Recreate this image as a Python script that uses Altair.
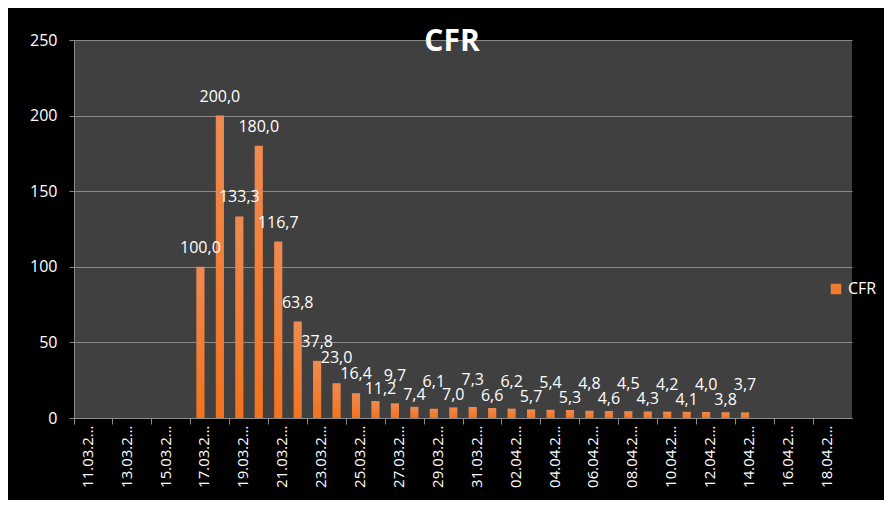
import altair as alt
import pandas as pd

dates = ["11.03.2020", "12.03.2020", "13.03.2020", "14.03.2020", "15.03.2020",
         "16.03.2020", "17.03.2020", "18.03.2020", "19.03.2020", "20.03.2020",
         "21.03.2020", "22.03.2020", "23.03.2020", "24.03.2020", "25.03.2020",
         "26.03.2020", "27.03.2020", "28.03.2020", "29.03.2020", "30.03.2020",
         "31.03.2020", "01.04.2020", "02.04.2020", "03.04.2020", "04.04.2020",
         "05.04.2020", "06.04.2020", "07.04.2020", "08.04.2020", "09.04.2020",
         "10.04.2020", "11.04.2020", "12.04.2020", "13.04.2020", "14.04.2020",
         "15.04.2020", "16.04.2020", "17.04.2020", "18.04.2020", "19.04.2020"]

cfr = [None, None, None, None, None, None,
       100.0, 200.0, 133.3, 180.0, 116.7, 63.8, 37.8, 23.0, 16.4, 11.2,
       9.7, 7.4, 6.1, 7.0, 7.3, 6.6, 6.2, 5.7, 5.4, 5.3, 4.8, 4.6, 4.5,
       4.3, 4.2, 4.1, 4.0, 3.8, 3.7,
       None, None, None, None, None]

tick_dates = dates[::2]
y_ticks = [0, 50, 100, 150, 200, 250]

df = pd.DataFrame({"date": dates, "cfr": cfr})

FONT = "Open Sans"
GRID = "#8a8a8a"

base = alt.Chart(df).transform_window(i="row_number()")

x_enc = alt.X(
    "date:N",
    sort=dates,
    scale=alt.Scale(domain=dates, paddingInner=0, paddingOuter=0),
    axis=alt.Axis(
        title=None,
        values=tick_dates,
        labelAngle=-90,
        bandPosition=0,
        labelOffset=4,
        labelColor="white",
        labelFont=FONT,
        labelFontSize=15,
        labelLimit=68,
        labelPadding=1,
        domainColor=GRID,
        tickColor=GRID,
        tickSize=6,
    ),
)

y_enc = alt.Y(
    "cfr:Q",
    scale=alt.Scale(domain=[0, 250], nice=False, zero=True),
    axis=alt.Axis(
        title=None,
        values=y_ticks,
        labelColor="white",
        labelFont=FONT,
        labelFontSize=16,
        labelPadding=12,
        gridColor=GRID,
        domainColor=GRID,
        tickColor=GRID,
        tickSize=5,
    ),
)

bars = base.mark_bar(
    width=alt.RelativeBandSize(0.42),
    color=alt.Gradient(
        gradient="linear",
        stops=[alt.GradientStop(color="#ee8b52", offset=0),
               alt.GradientStop(color="#f2731e", offset=1)],
        x1=0, x2=0, y1=0, y2=1,
    ),
).encode(x=x_enc, y=y_enc)

labels = base.transform_filter("datum.cfr != null").transform_calculate(
    lab="replace(format(datum.cfr, '.1f'), '.', ',')"
).mark_text(
    color="white",
    font=FONT,
    fontSize=16,
    baseline="middle",
    dy=alt.ExprRef(
        "datum.i == 14 ? -25 : (datum.i >= 16 ? (datum.i % 2 == 1 ? -27 : -12) : -19)"
    ),
    dx=alt.ExprRef("datum.i == 16 ? 5 : 0"),
).encode(x=x_enc, y=y_enc, text="lab:N")

legend_layer = base.transform_calculate(s="'CFR'").mark_square(size=0, opacity=1).encode(
    color=alt.Color(
        "s:N",
        scale=alt.Scale(domain=["CFR"], range=["#f07b2c"]),
        legend=alt.Legend(
            title=None,
            orient="none",
            legendX=754,
            legendY=241,
            labelColor="white",
            labelFont=FONT,
            labelFontSize=16,
            symbolType="square",
            symbolSize=110,
            symbolOpacity=1,
            symbolStrokeWidth=0,
        ),
    )
)

chart = alt.layer(bars, labels, legend_layer).properties(
    width=778,
    height=378,
    background="black",
    view=alt.ViewBackground(fill="#404040", strokeWidth=0),
    autosize=alt.AutoSizeParams(type="none"),
    padding={"left": 66, "top": 32, "right": 32, "bottom": 82},
    title=alt.TitleParams(
        "CFR",
        color="white",
        font=FONT,
        fontSize=30,
        fontWeight="bold",
        anchor="middle",
        baseline="alphabetic",
        offset=0,
        dy=49,
        dx=-11,
    ),
).configure_view(fill="#404040", strokeWidth=0)

chart.save("out.html", embed_options={"renderer": "svg", "actions": False})
